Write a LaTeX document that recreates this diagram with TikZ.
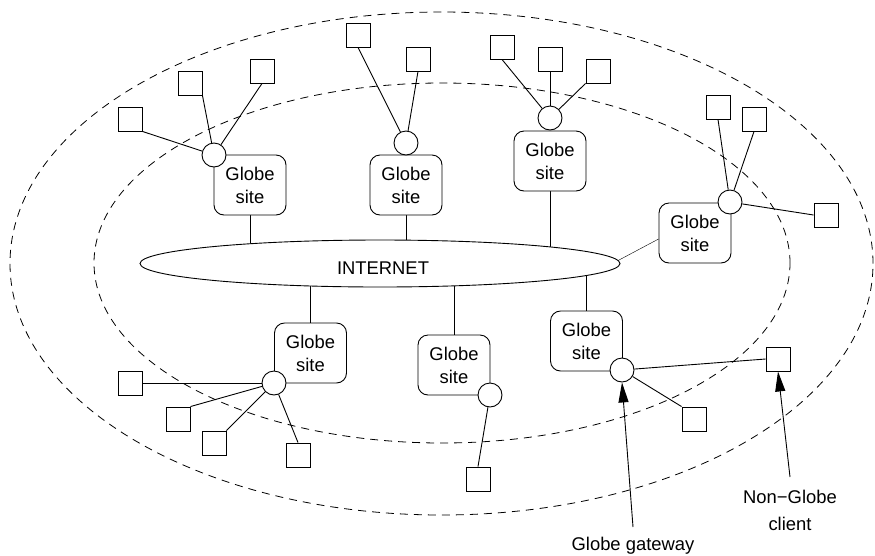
\documentclass[tikz,border=0pt]{standalone}
\usepackage{fontspec}
\setmainfont{Liberation Sans}
\usetikzlibrary{shapes.geometric,arrows.meta,backgrounds}
\begin{document}
\begin{tikzpicture}[x=1pt,y=-1pt,line width=0.9pt,
  every node/.style={font=\fontsize{18.4}{23}\selectfont},
  site/.style={draw,fill=white,rounded corners=10pt,minimum width=72pt,
    minimum height=60pt,align=center,inner sep=0pt},
  gw/.style={draw,fill=white,circle,minimum size=24pt,inner sep=0pt},
  host/.style={draw,fill=white,rectangle,minimum size=24pt,inner sep=0pt},
  zone/.style={dash pattern=on 8pt off 6pt,line width=0.8pt},
  pointer/.style={-{Triangle[length=20pt,width=10pt]}},
  caption/.style={align=center,inner sep=0pt,anchor=north}]
\useasboundingbox (0,0) rectangle (875,555);

% the Internet
\node[draw,fill=white,ellipse,minimum width=480pt,minimum height=47pt,
  inner sep=0pt,text height=22.2pt,text depth=0pt] (inet) at (380,263.5)
  {\hspace*{6pt}INTERNET};

% Globe sites
\node[site] (s1) at (250,185)   {Globe\\site};
\node[site] (s2) at (406,185)   {Globe\\site};
\node[site] (s3) at (550,161)   {Globe\\site};
\node[site] (s4) at (695,233)   {Globe\\site};
\node[site] (s5) at (310.5,353) {Globe\\site};
\node[site] (s6) at (454,365)   {Globe\\site};
\node[site] (s7) at (586.5,341) {Globe\\site};

% gateways
\node[gw] (g1) at (214,155) {};
\node[gw] (g2) at (406,143) {};
\node[gw] (g3) at (550,118) {};
\node[gw] (g4) at (730,202) {};
\node[gw] (g5) at (274,383) {};
\node[gw] (g6) at (490,395) {};
\node[gw] (g7) at (622,370) {};

% clients
\node[host] (h1a) at (130,119) {};
\node[host] (h1b) at (190,83)  {};
\node[host] (h1c) at (262,71)  {};
\node[host] (h2a) at (358,35)  {};
\node[host] (h2b) at (418,59)  {};
\node[host] (h3a) at (502,47)  {};
\node[host] (h3b) at (550,59)  {};
\node[host] (h3c) at (598,71)  {};
\node[host] (h4a) at (718,107) {};
\node[host] (h4b) at (754,119) {};
\node[host] (h4c) at (826,215) {};
\node[host] (h5a) at (130,383) {};
\node[host] (h5b) at (178,419) {};
\node[host] (h5c) at (214,443) {};
\node[host] (h5d) at (298,455) {};
\node[host] (h6)  at (478,479) {};
\node[host] (h7a) at (778,359) {};
\node[host] (h7b) at (694,419) {};

\begin{scope}[on background layer,line width=0.9pt]
  % reachability zones
  \draw[zone] (441.5,263.5) ellipse [x radius=431.5pt, y radius=251.5pt];
  \draw[zone] (442,263) ellipse [x radius=348pt, y radius=180pt];
  % sites attached to the Internet (the filled ellipse hides the inner part)
  \draw (s1.south) -- (s1.south |- inet.center);
  \draw (s2.south) -- (s2.south |- inet.center);
  \draw (s3.south) -- (s3.south |- inet.center);
  \draw ([yshift=-6pt]s4.west) -- ([xshift=-8pt]inet.east);
  \draw (s5.north) -- (s5.north |- inet.center);
  \draw (s6.north) -- (s6.north |- inet.center);
  \draw (s7.north) -- (s7.north |- inet.center);
\end{scope}

% clients attached to gateways
\draw (h1a.south east) -- (g1);
\draw (h1b.south east) -- (g1);
\draw (h1c.south) -- (g1);
\draw (h2a.south) -- (g2);
\draw (h2b.south) -- (g2);
\draw (h3a.south) -- (g3);
\draw (h3b.south) -- (g3);
\draw (h3c.south west) -- (g3);
\draw (h4a.south) -- (g4);
\draw (h4b.south) -- (g4);
\draw (h4c.west) -- (g4);
\draw (h5a.east) -- (g5);
\draw (h5b.north east) -- (g5);
\draw (h5c.north east) -- (g5);
\draw (h5d.north) -- (g5);
\draw (h6.north) -- (g6);
\draw (h7a.west) -- (g7);
\draw (h7b.north west) -- (g7);

% annotations
\node[caption] (lgw) at (633,537) {Globe gateway};
\node[caption] (lng) at (790,490) {Non−Globe\\[4pt]client};
\draw[pointer] ([yshift=10pt]lgw.north) -- (g7.south);
\draw[pointer] ([yshift=13pt]lng.north) -- (h7a.south);
\end{tikzpicture}
\end{document}
